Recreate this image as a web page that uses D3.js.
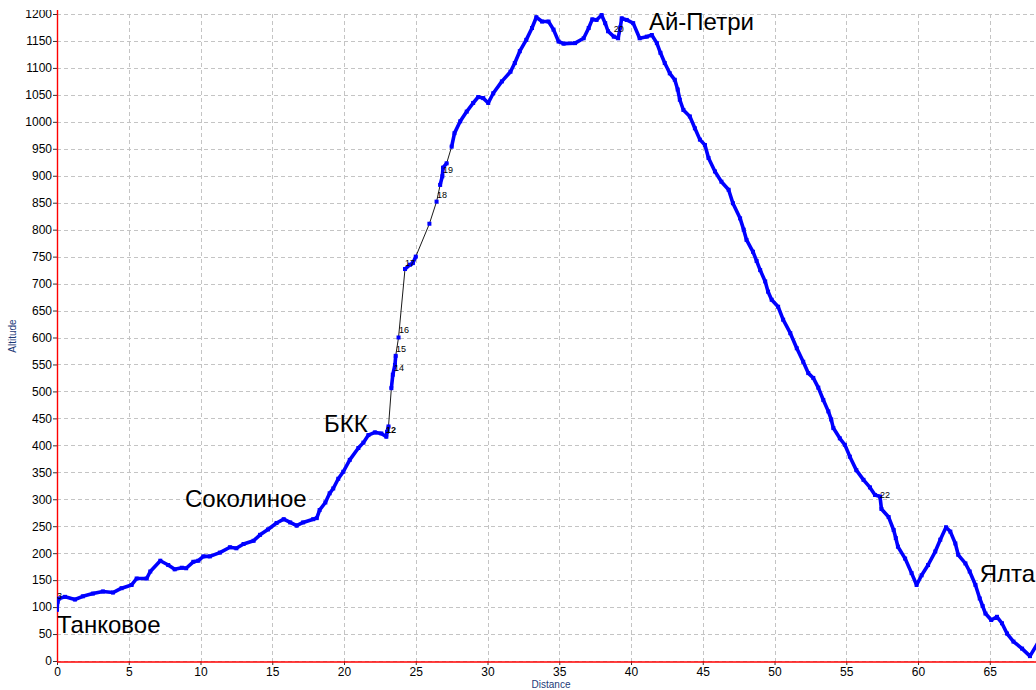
<!DOCTYPE html>
<html><head><meta charset="utf-8">
<script src="https://cdn.jsdelivr.net/npm/d3@7/dist/d3.min.js"></script>
<style>
html,body{margin:0;padding:0;background:#fff;overflow:hidden}
svg{display:block}
</style></head>
<body><svg id="c" width="1036" height="690"></svg>
<script>
// ---- data ----
const distance = [0.0,0.05,0.15,0.56,1.25,1.8,2.5,3.2,3.9,4.5,5.2,5.55,6.25,6.5,7.2,7.75,8.2,8.7,9.0,9.5,9.85,10.2,10.65,11.35,12.05,12.5,13.0,13.7,14.15,14.7,15.3,15.8,16.25,16.7,17.15,17.85,18.1,18.3,18.7,19.0,19.25,19.6,19.95,20.4,21.0,21.35,21.7,22.15,22.6,22.95,23.0,23.1,23.3,23.4,23.55,23.6,23.8,24.25,24.6,24.8,25.0,25.95,26.45,26.7,26.85,26.9,27.15,27.5,27.7,28.1,28.55,29.0,29.35,29.7,30.05,30.4,31.0,31.6,31.9,32.25,32.7,33.1,33.4,33.8,34.25,34.6,34.95,35.3,36.1,36.7,37.05,37.3,37.6,37.95,38.2,38.4,38.8,39.1,39.25,39.35,39.7,40.15,40.6,41.1,41.45,41.8,42.05,42.35,42.7,43.05,43.25,43.4,43.65,44.1,44.45,44.8,45.15,45.4,45.85,46.3,46.8,47.1,47.6,47.85,48.05,48.5,48.75,49.0,49.35,49.55,49.8,50.25,50.6,51.1,51.55,52.0,52.35,52.7,53.05,53.4,53.75,53.95,54.1,54.55,54.9,55.25,55.7,56.2,56.65,57.0,57.35,57.45,57.95,58.3,58.45,58.6,59.1,59.55,59.9,60.25,60.7,61.2,61.55,61.95,62.25,62.6,62.8,63.3,63.6,64.0,64.3,64.5,64.7,65.1,65.5,65.85,66.2,66.65,67.25,67.8,68.4];
const altitude = [95,110,116,119,114,120,125,129,127,135,141,153,153,166,186,178,170,173,172,184,186,194,194,201,211,209,217,223,234,244,256,263,257,251,257,263,265,280,294,311,320,338,351,373,395,405,419,424,422,416,425,435,506,531,549,566,600,727,735,738,750,811,852,883,899,915,923,954,979,1001,1019,1035,1046,1044,1035,1053,1075,1093,1109,1131,1152,1174,1194,1186,1186,1171,1149,1145,1146,1155,1174,1190,1189,1198,1183,1168,1158,1155,1175,1192,1189,1183,1155,1158,1161,1146,1128,1109,1090,1078,1060,1041,1022,1010,988,967,957,933,908,889,874,849,821,800,781,759,742,725,704,685,670,657,633,608,580,555,534,525,507,484,463,448,432,413,401,379,354,336,322,308,305,282,267,243,228,212,190,163,141,159,178,203,225,248,240,218,197,181,166,141,116,102,88,76,82,70,51,36,23,9,36];

const xTicks = [0,5,10,15,20,25,30,35,40,45,50,55,60,65];
const yTicks = [0,50,100,150,200,250,300,350,400,450,500,550,600,650,700,750,800,850,900,950,1000,1050,1100,1150,1200];

const placeNames = ["Танковое","Соколиное","БКК","Ай-Петри","Ялта"];
const placeDist  = [0, 8.92, 18.6, 41.25, 64.3];
const placeAlt   = [52, 286, 425, 1171, 147];

const wpLabels = ["3","12","14","15","16","17","18","19","20","22"];
const wpDist   = [0.0, 22.93, 23.48, 23.62, 23.83, 24.25, 26.48, 26.9, 38.8, 57.35];
const wpAlt    = [115, 423, 538, 573, 608, 733, 859, 905, 1167, 302];

const xLabel = "Distance", yLabel = "Altitude";

(function(){
// ---- layout ----
const W = 1036, H = 690;
const mLeft = 57, mRight = 1036, mTop = 14, mBottom = 661;
const x = d3.scaleLinear().domain([0, 68.22]).range([mLeft, mRight]);
const y = d3.scaleLinear().domain([0, 1200]).range([mBottom, mTop]);

const svg = d3.select("#c");
const pts = distance.map((d,i)=>[d, altitude[i]]);

// grid
svg.append("g").selectAll("line").data(yTicks).join("line")
  .attr("x1", mLeft).attr("x2", mRight)
  .attr("y1", d=>Math.round(y(d))+0.5).attr("y2", d=>Math.round(y(d))+0.5)
  .attr("stroke", "#c4c4c4").attr("stroke-dasharray","4,3").attr("stroke-width",1);
svg.append("g").selectAll("line").data(xTicks.filter(d=>d>0)).join("line")
  .attr("y1", mTop).attr("y2", mBottom)
  .attr("x1", d=>Math.round(x(d))+0.5).attr("x2", d=>Math.round(x(d))+0.5)
  .attr("stroke", "#c4c4c4").attr("stroke-dasharray","4,3").attr("stroke-width",1);

// axes
const fontTick = "'Liberation Sans', Arial, sans-serif";
const ay = svg.append("g").attr("transform", `translate(${mLeft},0)`)
  .call(d3.axisLeft(y).tickValues(yTicks).tickSize(4).tickPadding(1).tickFormat(d3.format("d")));
ay.select(".domain").remove();
ay.selectAll("line").attr("stroke","#333");
ay.selectAll("text").attr("font-family", fontTick).attr("font-size", 12).attr("fill","#000");

const ax = svg.append("g").attr("transform", `translate(0,${mBottom})`)
  .call(d3.axisBottom(x).tickValues(xTicks).tickSize(4).tickPadding(2).tickFormat(d3.format("d")));
ax.select(".domain").remove();
ax.selectAll("line").attr("stroke","#333");
ax.selectAll("text").attr("font-family", fontTick).attr("font-size", 12).attr("fill","#000");

// red axis lines
svg.append("line").attr("x1", mLeft+0.5).attr("x2", mLeft+0.5).attr("y1", 0).attr("y2", mBottom+1)
  .attr("stroke","#ff0000").attr("stroke-width",1.4);
svg.append("line").attr("x1", mLeft).attr("x2", W).attr("y1", mBottom+1).attr("y2", mBottom+1)
  .attr("stroke","#ff0000").attr("stroke-width",1.4);

// clip for plot data
svg.append("defs").append("clipPath").attr("id","pc").append("rect")
  .attr("x", mLeft).attr("y", 0).attr("width", W-mLeft).attr("height", mBottom+1);
const plot = svg.append("g").attr("clip-path","url(#pc)");

// thin black track line
const line = d3.line().x(d=>x(d[0])).y(d=>y(d[1]));
plot.append("path").datum(pts).attr("d", line)
  .attr("fill","none").attr("stroke","#1a1a1a").attr("stroke-width",1);

// thick blue where points are dense
const segs = [];
let cur = [pts[0]];
for (let i=1;i<pts.length;i++){
  const dx = x(pts[i][0])-x(pts[i-1][0]), dy = y(pts[i][1])-y(pts[i-1][1]);
  if (Math.hypot(dx,dy) < 17) cur.push(pts[i]);
  else { segs.push(cur); cur=[pts[i]]; }
}
segs.push(cur);
plot.append("g").selectAll("path").data(segs.filter(s=>s.length>1)).join("path")
  .attr("d", line).attr("fill","none").attr("stroke","#0000ff")
  .attr("stroke-width",3.6).attr("stroke-linejoin","round").attr("stroke-linecap","round");
plot.append("g").selectAll("rect").data(pts).join("rect")
  .attr("x", d=>x(d[0])-2).attr("y", d=>y(d[1])-2).attr("width",4).attr("height",4)
  .attr("fill","#0000ff");

// waypoint labels
svg.append("g").selectAll("text").data(wpLabels).join("text")
  .attr("x",(d,i)=>x(wpDist[i])).attr("y",(d,i)=>y(wpAlt[i]))
  .attr("font-family", fontTick).attr("font-size", 9).attr("fill","#000")
  .attr("font-weight",(d,i)=>d==="12"?"bold":"normal")
  .text(d=>d);

// place names
svg.append("g").selectAll("text").data(placeNames).join("text")
  .attr("x",(d,i)=>x(placeDist[i])).attr("y",(d,i)=>y(placeAlt[i]))
  .attr("font-family", fontTick).attr("font-size", 24).attr("fill","#000")
  .text(d=>d);

// axis titles
svg.append("text").attr("x", 551).attr("y", 688).attr("text-anchor","middle")
  .attr("font-family", fontTick).attr("font-size", 10).attr("fill","#1c3a78").text(xLabel);
svg.append("text").attr("transform","translate(16,336) rotate(-90)").attr("text-anchor","middle")
  .attr("font-family", fontTick).attr("font-size", 10).attr("fill","#1c3a78").text(yLabel);

// top cut of the original window
svg.append("rect").attr("x",0).attr("y",0).attr("width",W).attr("height",10).attr("fill","#fff");
})();
</script></body></html>
